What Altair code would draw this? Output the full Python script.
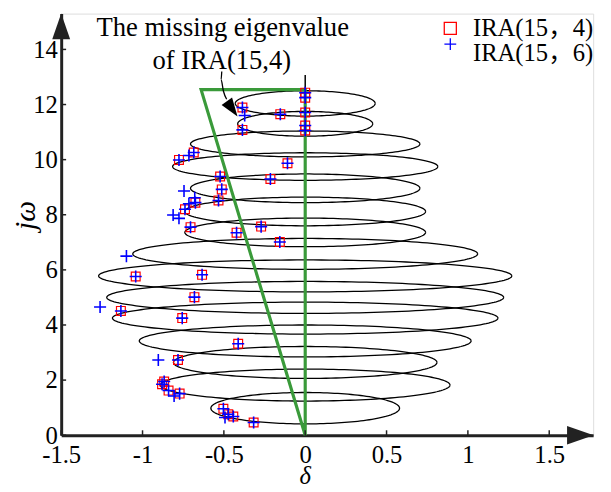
import altair as alt
import numpy as np
import pandas as pd

# ---------------- data ----------------
# IRA(15,4) eigenvalues (red squares)
ira4_x = [0.0, 0.0, 0.0, 0.0, 0.0, -0.153, -0.386, -0.386, -0.685, -0.776, -0.109,
          -0.523, -0.214, -0.513, -0.533, -0.675, -0.739, -0.705, -0.422, -0.271, -0.156,
          -1.042, -0.634, -0.681, -1.133, -0.756, -0.412, -0.782, -0.867, -0.880, -0.840,
          -0.772, -0.503, -0.473, -0.442, -0.317]
ira4_y = [12.43, 12.25, 11.71, 11.24, 11.06, 11.65, 11.89, 11.08, 10.26, 9.99, 9.87,
          9.39, 9.30, 8.92, 8.52, 8.44, 8.20, 7.55, 7.35, 7.57, 7.01,
          5.76, 5.82, 5.01, 4.51, 4.25, 3.32, 2.73, 1.95, 1.85, 1.62,
          1.51, 0.96, 0.76, 0.68, 0.46]

# IRA(15,6) eigenvalues (blue pluses)
ira6_x = [0.0, 0.0, 0.0, 0.0, 0.0, -0.153, -0.386, -0.386, -0.685, -0.776, -0.109,
          -0.523, -0.214, -0.513, -0.533, -0.675, -0.739, -0.705, -0.422, -0.271, -0.156,
          -1.042, -0.634, -0.681, -1.133, -0.756, -0.412, -0.782, -0.867, -0.880, -0.840,
          -0.772, -0.503, -0.473, -0.442, -0.317,
          -0.372, -0.715, -0.745, -0.679, -0.715, -0.812, -0.776, -1.099, -1.261, -0.903,
          -0.806, -0.493]
ira6_y = [12.43, 12.25, 11.71, 11.24, 11.06, 11.65, 11.89, 11.08, 10.26, 9.99, 9.87,
          9.39, 9.30, 8.92, 8.52, 8.44, 8.20, 7.55, 7.35, 7.57, 7.01,
          5.76, 5.82, 5.01, 4.51, 4.25, 3.32, 2.73, 1.95, 1.85, 1.62,
          1.51, 0.96, 0.76, 0.68, 0.46,
          11.60, 10.15, 8.86, 8.62, 8.40, 7.99, 7.87, 6.50, 4.65, 2.73,
          1.42, 0.64]

# stability ellipses: centre (on jw axis), half-width, half-height
loop_c = [0.98, 1.82, 2.64, 3.42, 4.25, 5.00, 5.78, 6.58, 7.36, 8.12, 8.96, 9.75, 10.57, 11.30, 12.04]
loop_a = [0.58, 0.89, 0.81, 1.02, 1.185, 1.22, 1.27, 1.06, 0.74, 0.74, 0.705, 0.815, 0.705, 0.415, 0.43]
loop_b = [0.57, 0.58, 0.58, 0.58, 0.58, 0.58, 0.58, 0.56, 0.52, 0.52, 0.52, 0.5, 0.47, 0.45, 0.46]

# green sector boundary
green_x = [0.0, -0.64, 0.0, 0.0]
green_y = [0.0, 12.54, 12.54, 0.0]
# black jw stub above it
stub_y = [12.54, 13.07]

# annotation arrow path
arrow_x = [-0.513, -0.517, -0.503, -0.483]
arrow_y = [13.20, 12.90, 12.49, 12.19]
arrowhead = (-0.463, 11.96)

x_ticks = [-1.5, -1, -0.5, 0, 0.5, 1, 1.5]
y_ticks = [0, 2, 4, 6, 8, 10, 12, 14]
series = ["IRA(15，4)", "IRA(15，6)"]

# ---------------- chart ----------------
W, H = 540, 428
FONT = "Liberation Serif"
LEGFONT = "Liberation Serif, 'Noto Sans CJK SC'"
xs = alt.Scale(domain=[-1.5, 1.77], nice=False, zero=False)
ys = alt.Scale(domain=[0, 15.3], nice=False, zero=False)

x_axis = alt.Axis(values=x_ticks, labelExpr="'' + datum.value", ticks=False, tickSize=0,
                  grid=False, domainWidth=3, domainColor="#222222",
                  labelFont=FONT, labelFontSize=25, labelColor="black",
                  labelPadding=8, labelOverlap=False, labelFlush=False, title=None)
y_axis = alt.Axis(values=y_ticks, labelExpr="'' + datum.value", ticks=False, tickSize=0, grid=False,
                  domainWidth=3, domainColor="#222222",
                  labelFont=FONT, labelFontSize=25, labelColor="black",
                  labelPadding=4, labelOverlap=False, labelFlush=False, title=None)


def X(f="x"):
    return alt.X(f"{f}:Q", scale=xs, axis=x_axis, title=None)


def Y(f="y"):
    return alt.Y(f"{f}:Q", scale=ys, axis=y_axis, title=None)


rows = []
for k, (c, a, b) in enumerate(zip(loop_c, loop_a, loop_b)):
    t = np.linspace(0, 2 * np.pi, 161)
    for i, tt in enumerate(t):
        rows.append({"loop": k, "i": i, "x": a * np.cos(tt), "y": c + b * np.sin(tt)})
ell_df = pd.DataFrame(rows)

ellipses = alt.Chart(ell_df).mark_line(color="black", strokeWidth=1.3).encode(
    x=X(), y=Y(), detail="loop:N", order="i:Q")

xtick_layer = alt.Chart(pd.DataFrame({"v": x_ticks})).mark_rule(color="#222222", strokeWidth=1.5).encode(
    x=X("v"), y=alt.value(H), y2=alt.value(H - 5))
ytick_layer = alt.Chart(pd.DataFrame({"v": y_ticks})).mark_rule(color="#222222", strokeWidth=1.5).encode(
    y=Y("v"), x=alt.value(0), x2=alt.value(5))

green = alt.Chart(pd.DataFrame({"x": green_x, "y": green_y, "i": range(4)})).mark_line(
    color="#3a9a3a", strokeWidth=3.2).encode(x=X(), y=Y(), order="i:Q")

stub = alt.Chart(pd.DataFrame({"x": [0.0, 0.0], "y": stub_y, "i": [0, 1]})).mark_line(
    color="black", strokeWidth=1.5).encode(x=X(), y=Y(), order="i:Q")

plus_path = "M-1,0L1,0M0,-1L0,1"
squares = alt.Chart(pd.DataFrame({"x": ira4_x, "y": ira4_y})).mark_point(
    shape="square", filled=False, color="#ff0000", size=80, strokeWidth=1.2, opacity=1).encode(x=X(), y=Y())
pluses = alt.Chart(pd.DataFrame({"x": ira6_x, "y": ira6_y})).mark_point(
    shape=plus_path, filled=False, color="#0000ff", size=150, strokeWidth=1.6, opacity=1).encode(x=X(), y=Y())

arrow_line = alt.Chart(pd.DataFrame({"x": arrow_x, "y": arrow_y, "i": range(len(arrow_x))})).mark_line(
    color="black", strokeWidth=1.3, interpolate="monotone").encode(x=X(), y=Y(), order="i:Q")
arrow_head = alt.Chart(pd.DataFrame({"x": [arrowhead[0]], "y": [arrowhead[1]]})).mark_point(
    shape="M0,-1L0.48,0.4L-0.48,0.4Z", filled=True, color="black", size=730, angle=145, opacity=1).encode(
    x=X(), y=Y())

ann1 = alt.Chart(pd.DataFrame({"t": ["The missing eigenvalue"]})).mark_text(
    font=FONT, fontSize=27, color="black", align="center", baseline="middle").encode(
    text="t:N", x=alt.value(164), y=alt.value(15))
ann2 = alt.Chart(pd.DataFrame({"t": ["of IRA(15,4)"]})).mark_text(
    font=FONT, fontSize=27, color="black", align="center", baseline="middle").encode(
    text="t:N", x=alt.value(163), y=alt.value(48))

# axis arrowheads
yarrow = alt.Chart(pd.DataFrame({"k": [0]})).mark_point(
    shape="M0,-1L0.7,1L-0.7,1Z", filled=True, color="#222222", size=676, opacity=1).encode(
    x=alt.value(0), y=alt.value(13))
xarrow = alt.Chart(pd.DataFrame({"k": [0]})).mark_point(
    shape="M0,-1L0.7,1L-0.7,1Z", filled=True, color="#222222", size=729, angle=90, opacity=1).encode(
    x=alt.value(W - 13), y=alt.value(H))

# axis titles
xtitle = alt.Chart(pd.DataFrame({"t": ["δ"], "x": [0.0]})).mark_text(
    font=FONT, fontSize=25, fontStyle="italic", color="black", baseline="middle").encode(
    text="t:N", x=X(), y=alt.value(H + 42))
ytitle = alt.Chart(pd.DataFrame({"t": ["jω"]})).mark_text(
    font=FONT, fontSize=30, fontStyle="italic", color="black", baseline="middle", angle=270).encode(
    text="t:N", x=alt.value(-36), y=alt.value(205))

# legend
leg_sq = alt.Chart(pd.DataFrame({"s": [series[0]]})).mark_point(
    shape="square", filled=False, color="#ff0000", size=150, strokeWidth=1.3, opacity=1).encode(
    x=alt.value(395), y=alt.value(15))
leg_pl = alt.Chart(pd.DataFrame({"s": [series[1]]})).mark_point(
    shape=plus_path, filled=False, color="#0000ff", size=144, strokeWidth=1.3, opacity=1).encode(
    x=alt.value(395), y=alt.value(31))
leg_t1 = alt.Chart(pd.DataFrame({"s": [series[0]]})).mark_text(
    font=LEGFONT, fontSize=25, color="black", align="left", baseline="middle").encode(
    text="s:N", x=alt.value(418), y=alt.value(15))
leg_t2 = alt.Chart(pd.DataFrame({"s": [series[1]]})).mark_text(
    font=LEGFONT, fontSize=25, color="black", align="left", baseline="middle").encode(
    text="s:N", x=alt.value(418), y=alt.value(40))

chart = alt.layer(
    ellipses, green, stub, xtick_layer, ytick_layer,
    squares, pluses, arrow_line, arrow_head, ann1, ann2,
    yarrow, xarrow, xtitle, ytitle, leg_sq, leg_pl, leg_t1, leg_t2,
).properties(
    width=W, height=H,
    autosize=alt.AutoSizeParams(type="none"),
    padding={"left": 54, "top": 2, "right": 10, "bottom": 56},
).configure_view(stroke=None).configure(background="white")

chart.save("out.html", embed_options={"renderer": "svg", "actions": False})
